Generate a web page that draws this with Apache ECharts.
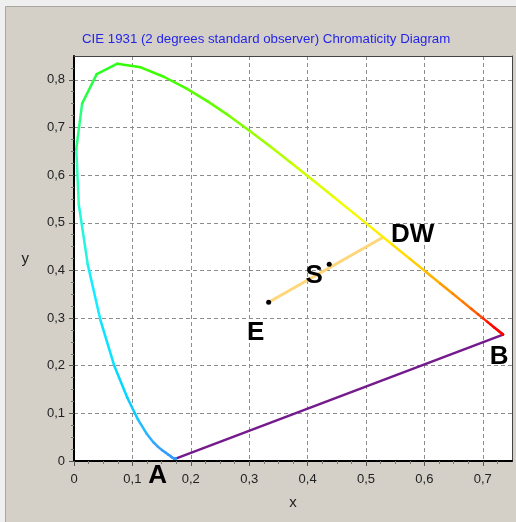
<!DOCTYPE html>
<html><head><meta charset="utf-8">
<script src="https://cdn.jsdelivr.net/npm/echarts@6/dist/echarts.min.js"></script>
<style>html,body{margin:0;padding:0;background:#efefef;}#c{width:516px;height:522px;}</style>
</head><body><div id="c"></div>
<script>
// CIE 1931 2° spectral locus (wavelength in nm, chromaticity x, y)
const wavelengths = [380,385,390,395,400,405,410,415,420,425,430,435,440,445,450,455,460,465,470,475,480,485,490,495,500,505,510,515,520,525,530,535,540,545,550,555,560,565,570,575,580,585,590,595,600,605,610,615,620,625,630,635,640,645,650,655,660,665,670,675,680,685,690,695,700];
const locusX = [0.1741,0.1740,0.1738,0.1736,0.1733,0.1730,0.1726,0.1721,0.1714,0.1703,0.1689,0.1669,0.1644,0.1611,0.1566,0.1510,0.1440,0.1355,0.1241,0.1096,0.0913,0.0687,0.0454,0.0235,0.0082,0.0039,0.0139,0.0389,0.0743,0.1142,0.1547,0.1929,0.2296,0.2658,0.3016,0.3373,0.3731,0.4087,0.4441,0.4788,0.5125,0.5448,0.5752,0.6029,0.6270,0.6482,0.6658,0.6801,0.6915,0.7006,0.7079,0.7140,0.7190,0.7230,0.7260,0.7283,0.7300,0.7311,0.7320,0.7327,0.7334,0.7340,0.7344,0.7346,0.7347];
const locusY = [0.0050,0.0050,0.0049,0.0049,0.0048,0.0048,0.0048,0.0048,0.0051,0.0058,0.0069,0.0086,0.0109,0.0138,0.0177,0.0227,0.0297,0.0399,0.0578,0.0868,0.1327,0.2007,0.2950,0.4127,0.5384,0.6548,0.7502,0.8120,0.8338,0.8262,0.8059,0.7816,0.7543,0.7243,0.6923,0.6589,0.6245,0.5896,0.5547,0.5202,0.4866,0.4544,0.4242,0.3965,0.3725,0.3514,0.3340,0.3197,0.3083,0.2993,0.2920,0.2859,0.2809,0.2770,0.2740,0.2717,0.2700,0.2689,0.2680,0.2673,0.2666,0.2660,0.2656,0.2654,0.2653];

// Line of purples (A -> B)
const purpleX = [0.1741, 0.7347];
const purpleY = [0.0050, 0.2653];

// Dominant wavelength line (E -> DW)
const dwLineX = [0.3333, 0.5285];
const dwLineY = [0.3333, 0.4690];

// Marked points
const markerNames = ['E', 'S'];
const markerX = [0.3333, 0.4370];
const markerY = [0.3333, 0.4130];

// Labelled points
const labelNames = ['E', 'S', 'DW', 'A', 'B'];
const labelX = [0.3333, 0.4370, 0.5285, 0.1741, 0.7347];
const labelY = [0.3333, 0.4130, 0.4690, 0.0050, 0.2653];

// Axis ticks
const xTicks = [0, 0.1, 0.2, 0.3, 0.4, 0.5, 0.6, 0.7];
const yTicks = [0, 0.1, 0.2, 0.3, 0.4, 0.5, 0.6, 0.7, 0.8];

const titleText = 'CIE 1931 (2 degrees standard observer) Chromaticity Diagram';

// ---- build ----
const segData = [];
for (let i = 0; i < wavelengths.length - 1; i++) {
  segData.push([locusX[i], locusY[i], wavelengths[i], locusX[i + 1], locusY[i + 1]]);
}
const labelOffsets = { E: [-13, 31], S: [-15, 12], DW: [30, -3], A: [-18, 17], B: [-4, 22] };

const fmt = v => {
  const r = Math.round(v * 10) / 10;
  return r === 0 ? '0' : String(r).replace('.', ',');
};
const FONT = '"Liberation Sans", Arial, sans-serif';

const chart = echarts.init(document.getElementById('c'), null, { renderer: 'canvas' });
chart.setOption({
  animation: false,
  backgroundColor: '#efefef',
  graphic: [{
    type: 'rect', z: -10, silent: true,
    shape: { x: 5.5, y: 6.5, width: 520, height: 520 },
    style: { fill: '#d4d0c8', stroke: '#a8a6a0', lineWidth: 1 }
  }],
  title: {
    text: titleText, left: 82, top: 33, padding: 0,
    textStyle: { color: '#2424e8', fontSize: 13.25, fontWeight: 'normal', fontFamily: FONT }
  },
  grid: { left: 74, top: 56, width: 438, height: 405, show: true, backgroundColor: '#ffffff', borderWidth: 0 },
  visualMap: {
    show: false, type: 'continuous', seriesIndex: 0, dimension: 2, min: 380, max: 700,
    inRange: { color: ['#3399ff','#3399ff','#3399ff','#3399ff','#3399ff','#3399ff','#3399ff','#3399ff','#33a4ff','#22bbff','#00d8ff','#11eeff','#33ffbb','#22ff44','#33ff00','#44ff00','#66ff00','#99ff00','#ccff00','#eeff00','#ffee00','#ffcc00','#ff9900','#ff7700','#ff4400','#ff1100','#ff0000','#ff0000','#ff0000','#ff0000','#ff0000','#ff0000','#ff0000'] }
  },
  xAxis: [{
    type: 'value', min: 0, max: 0.75, interval: 0.1,
    name: 'x', nameLocation: 'middle', nameGap: 34,
    nameTextStyle: { color: '#222', fontSize: 15, fontFamily: FONT },
    axisLine: { show: true, onZero: false, lineStyle: { color: '#000', width: 2 } },
    axisTick: { show: true, inside: false, length: 5, customValues: xTicks, lineStyle: { color: '#555' } },
    minorTick: { show: true, splitNumber: 4, length: 3, lineStyle: { color: '#777' } },
    axisLabel: { margin: 12, color: '#222', fontSize: 13, fontFamily: FONT, showMaxLabel: false, formatter: fmt },
    splitLine: { show: true, lineStyle: { color: '#8c8c8c', type: [4, 3], width: 1 } }
  }, {
    type: 'value', min: 0, max: 0.75, position: 'top',
    axisLine: { show: true, onZero: false, lineStyle: { color: '#444', width: 1 } },
    axisTick: { show: false }, axisLabel: { show: false }, splitLine: { show: false }
  }],
  yAxis: [{
    type: 'value', min: 0, max: 0.85, interval: 0.1,
    name: 'y', nameLocation: 'middle', nameGap: 45, nameRotate: 0,
    nameTextStyle: { color: '#222', fontSize: 15, fontFamily: FONT, padding: [6, 0, 0, 0] },
    axisLine: { show: true, onZero: false, lineStyle: { color: '#000', width: 2 } },
    axisTick: { show: true, inside: false, length: 5, customValues: yTicks, lineStyle: { color: '#555' } },
    minorTick: { show: true, splitNumber: 4, length: 3, lineStyle: { color: '#777' } },
    axisLabel: { margin: 9, color: '#222', fontSize: 13, fontFamily: FONT, showMaxLabel: false, formatter: fmt },
    splitLine: { show: true, lineStyle: { color: '#8c8c8c', type: [4, 3], width: 1 } }
  }, {
    type: 'value', min: 0, max: 0.85, position: 'right',
    axisLine: { show: true, onZero: false, lineStyle: { color: '#444', width: 1 } },
    axisTick: { show: false }, axisLabel: { show: false }, splitLine: { show: false }
  }],
  series: [{
    type: 'custom', name: 'locus', z: 3,
    encode: { x: [0, 3], y: [1, 4] },
    data: segData,
    renderItem: (params, api) => {
      const p1 = api.coord([api.value(0), api.value(1)]);
      const p2 = api.coord([api.value(3), api.value(4)]);
      return {
        type: 'line',
        shape: { x1: p1[0], y1: p1[1], x2: p2[0], y2: p2[1] },
        style: { stroke: api.visual('color'), lineWidth: 2.5, lineCap: 'round' }
      };
    }
  }, {
    type: 'line', name: 'purples', z: 2, symbol: 'none',
    data: purpleX.map((x, i) => [x, purpleY[i]]),
    lineStyle: { color: '#741a8c', width: 2.5 }
  }, {
    type: 'line', name: 'dw', z: 2, symbol: 'none',
    data: dwLineX.map((x, i) => [x, dwLineY[i]]),
    lineStyle: { color: '#ffd77a', width: 3 }
  }, {
    type: 'scatter', name: 'markers', z: 5, symbol: 'circle', symbolSize: 5,
    itemStyle: { color: '#000', opacity: 1 },
    data: markerNames.map((n, i) => ({ name: n, value: [markerX[i], markerY[i]] }))
  }, {
    type: 'scatter', name: 'labels', z: 6, symbolSize: 0,
    itemStyle: { color: '#000', opacity: 1 },
    data: labelNames.map((n, i) => ({
      name: n, value: [labelX[i], labelY[i]],
      label: { show: true, position: 'inside', offset: labelOffsets[n], formatter: n,
        color: '#000', opacity: 1, textBorderWidth: 0, textBorderColor: 'transparent',
        fontSize: 26, fontWeight: 'bold', fontFamily: FONT }
    }))
  }]
});
</script></body></html>
